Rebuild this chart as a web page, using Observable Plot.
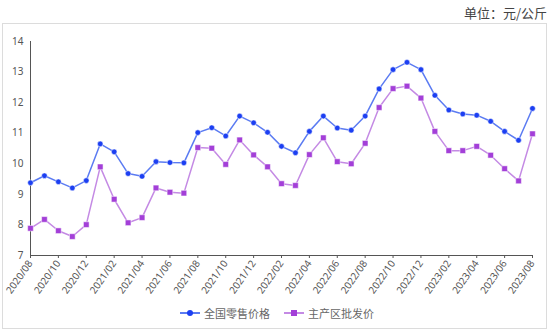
<!DOCTYPE html>
<html><head><meta charset="utf-8">
<script src="https://cdn.jsdelivr.net/npm/d3@7"></script>
<script src="https://cdn.jsdelivr.net/npm/@observablehq/plot@0.6"></script>
<style>
body{margin:0;background:#fff;font-family:"Noto Sans CJK SC","Noto Sans",sans-serif;}
#wrap{position:relative;width:554px;height:333px;overflow:hidden;}
#box{position:absolute;left:2px;top:23px;width:545px;height:306px;border:1px solid #dcdcdc;box-sizing:border-box;}
#unit{position:absolute;right:7px;top:3px;font-size:13px;color:#444;}
#chart{position:absolute;left:0;top:0;}
#legend{position:absolute;left:0;top:305px;width:554px;display:flex;justify-content:center;gap:14px;font-size:11px;color:#666;}
.li{display:flex;align-items:center;gap:4px;}
</style></head>
<body><div id="wrap"><div id="box"></div><div id="unit">单位：元/公斤</div><div id="chart"></div>
<div id="legend"></div></div>
<script>
const months = ["2020/08","2020/09","2020/10","2020/11","2020/12","2021/01","2021/02","2021/03","2021/04","2021/05","2021/06","2021/07","2021/08","2021/09","2021/10","2021/11","2021/12","2022/01","2022/02","2022/03","2022/04","2022/05","2022/06","2022/07","2022/08","2022/09","2022/10","2022/11","2022/12","2023/01","2023/02","2023/03","2023/04","2023/05","2023/06","2023/07","2023/08"];
const retail = [9.38,9.61,9.41,9.21,9.45,10.65,10.39,9.68,9.59,10.07,10.04,10.03,11.02,11.18,10.91,11.56,11.34,11.03,10.57,10.36,11.06,11.56,11.17,11.10,11.56,12.45,13.08,13.32,13.08,12.24,11.76,11.63,11.59,11.39,11.06,10.77,11.81];
const wholesale = [7.89,8.18,7.81,7.62,8.01,9.90,8.84,8.07,8.24,9.21,9.07,9.04,10.53,10.51,9.98,10.78,10.29,9.90,9.35,9.29,10.30,10.85,10.07,10.00,10.67,11.84,12.46,12.54,12.15,11.06,10.43,10.43,10.57,10.28,9.84,9.44,10.98];
const seriesNames = ["全国零售价格","主产区批发价"];
const yTicks = [7,8,9,10,11,12,13,14];
const xTicks = months.filter((d,i)=>i%2===0);

const lineColors = ["#5b7bf2","#c48ae4"];
const dotColors = ["#1c3ff2","#a33fd8"];

const retailData = months.map((m,i)=>({m,v:retail[i]}));
const wholeData = months.map((m,i)=>({m,v:wholesale[i]}));

const chart = Plot.plot({
  width:554, height:305,
  marginTop:41, marginBottom:50, marginLeft:30, marginRight:22,
  style:{fontFamily:"'Noto Sans','DejaVu Sans',sans-serif",fontSize:"10px",color:"#555",background:"transparent"},
  x:{type:"point",domain:months,padding:0,ticks:xTicks,tickRotate:-55,tickSize:3,label:null,tickPadding:3},
  y:{domain:[7,14],ticks:yTicks,tickFormat:d3.format("d"),tickSize:0,label:null,tickPadding:7},
  marks:[
    Plot.ruleX([months[0]],{stroke:"#555",y1:7,y2:14}),
    Plot.ruleY([7],{stroke:"#555"}),
    Plot.line(retailData,{x:"m",y:"v",stroke:lineColors[0],strokeWidth:1.5}),
    Plot.dot(retailData,{x:"m",y:"v",fill:dotColors[0],r:2.8,stroke:"#fff",strokeWidth:0.5}),
    Plot.line(wholeData,{x:"m",y:"v",stroke:lineColors[1],strokeWidth:1.5}),
    Plot.dot(wholeData,{x:"m",y:"v",fill:dotColors[1],symbol:"square",r:3.2,stroke:"#fff",strokeWidth:0.5})
  ]
});
document.getElementById("chart").appendChild(chart);

const lg = document.getElementById("legend");
seriesNames.forEach((n,i)=>{
  const d = document.createElement("div"); d.className="li";
  const mk = i===0 ? `<circle cx="10" cy="6" r="3" fill="${dotColors[0]}"/>` : `<rect x="7" y="3" width="6" height="6" fill="${dotColors[1]}"/>`;
  d.innerHTML = `<svg width="20" height="12"><line x1="0" y1="6" x2="20" y2="6" stroke="${lineColors[i]}" stroke-width="2"/>${mk}</svg><span>${n}</span>`;
  lg.appendChild(d);
});
</script></body></html>
